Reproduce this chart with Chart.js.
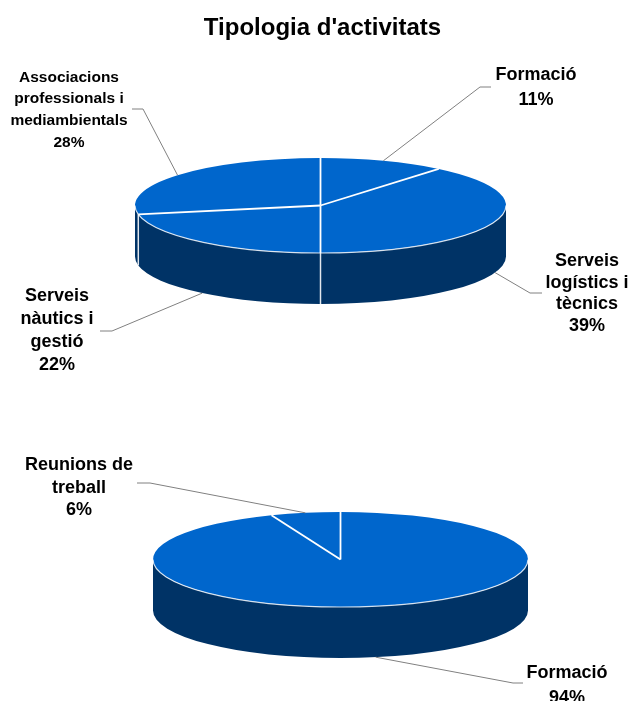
<!DOCTYPE html>
<html>
<head>
<meta charset="utf-8">
<script src="https://cdn.jsdelivr.net/npm/chart.js@4.4.1/dist/chart.umd.min.js"></script>
<style>
html,body{margin:0;padding:0;background:#fff;}
#wrap{position:relative;width:631px;height:701px;overflow:hidden;background:#fff;}
#wrap canvas{position:absolute;left:0;top:0;}
</style>
</head>
<body>
<div id="wrap">
<canvas id="c1" width="631" height="701"></canvas>
<canvas id="c2" width="631" height="701"></canvas>
</div>
<script>
// ---- data ----
const chartTitle = "Tipologia d'activitats";
const categories1 = [['Formació'], ['Serveis', 'logístics i', 'tècnics'], ['Serveis', 'nàutics i', 'gestió'], ['Associacions', 'professionals i', 'mediambientals']];
const values1 = [11, 39, 22, 28];
const categories2 = [['Formació'], ['Reunions de', 'treball']];
const values2 = [94, 6];

const FONT = '"Liberation Sans", Arial, Helvetica, sans-serif';
const TOP_COLOR = '#0066CC';
const SIDE_COLOR = '#003366';

// 3D pie plugin: draws the library's arc elements on a tilted ellipse with a side wall
const pie3d = {
  id: 'pie3d',
  beforeDatasetsDraw(chart, args, o) {
    const ctx = chart.ctx;
    const arcs = chart.getDatasetMeta(0).data;
    if (!arcs.length) return false;
    const R = arcs[0].outerRadius, ox = arcs[0].x, oy = arcs[0].y;
    const {cx, cy, rx, ry, depth} = o;
    const pt = (a, dy) => [cx + rx * Math.cos(a), cy + ry * Math.sin(a) + (dy || 0)];
    // side walls (front half only)
    arcs.forEach((arc) => {
      const s = arc.startAngle, e = arc.endAngle;
      for (let k = -1; k <= 1; k++) {
        const lo = Math.max(s, 2 * Math.PI * k), hi = Math.min(e, 2 * Math.PI * k + Math.PI);
        if (hi > lo) {
          ctx.beginPath();
          ctx.ellipse(cx, cy, rx, ry, 0, lo, hi);
          ctx.ellipse(cx, cy + depth, rx, ry, 0, hi, lo, true);
          ctx.closePath();
          ctx.fillStyle = o.sideColor;
          ctx.fill();
        }
      }
    });
    // side separators
    ctx.save();
    ctx.strokeStyle = 'rgba(255,255,255,0.85)';
    ctx.lineWidth = 1.5;
    arcs.forEach((arc) => {
      const a = arc.startAngle;
      if (Math.sin(a) > 0.001) {
        const p = pt(a), q = pt(a, depth);
        ctx.beginPath(); ctx.moveTo(p[0], p[1]); ctx.lineTo(q[0], q[1]); ctx.stroke();
      }
    });
    ctx.restore();
    // top faces through the library's arc elements
    arcs.forEach((arc) => {
      ctx.save();
      ctx.translate(cx, cy);
      ctx.scale(rx / R, ry / R);
      ctx.translate(-ox, -oy);
      arc.draw(ctx);
      ctx.restore();
    });
    // front rim highlight
    ctx.save();
    ctx.strokeStyle = 'rgba(255,255,255,0.8)';
    ctx.lineWidth = 1.2;
    ctx.beginPath(); ctx.ellipse(cx, cy, rx, ry, 0, 0, Math.PI); ctx.stroke();
    // top separators
    ctx.strokeStyle = '#ffffff';
    ctx.lineWidth = 1.8;
    arcs.forEach((arc) => {
      const p = pt(arc.startAngle);
      ctx.beginPath(); ctx.moveTo(cx, cy); ctx.lineTo(p[0], p[1]); ctx.stroke();
    });
    ctx.restore();
    return false;
  }
};

// callout labels with leader lines
const callouts = {
  id: 'callouts',
  afterDraw(chart, args, o) {
    const ctx = chart.ctx;
    const g = chart.options.plugins.pie3d;
    const arcs = chart.getDatasetMeta(0).data;
    const vals = chart.data.datasets[0].data;
    const total = vals.reduce((a, b) => a + b, 0);
    ctx.save();
    o.items.forEach((it, i) => {
      const arc = arcs[i];
      const mid = (arc.startAngle + arc.endAngle) / 2;
      let ax = g.cx + g.rx * Math.cos(mid), ay = g.cy + g.ry * Math.sin(mid);
      if (Math.sin(mid) > 0) ay += g.depth;
      ctx.strokeStyle = '#808080';
      ctx.lineWidth = 1;
      ctx.beginPath();
      ctx.moveTo(ax, ay);
      ctx.lineTo(it.elbow[0], it.elbow[1]);
      ctx.lineTo(it.end[0], it.end[1]);
      ctx.stroke();
      const lbl = chart.data.labels[i];
      const lines = (Array.isArray(lbl) ? lbl : [lbl]).concat([Math.round(vals[i] / total * 100) + '%']);
      ctx.fillStyle = '#000';
      ctx.font = 'bold ' + it.size + 'px ' + FONT;
      ctx.textAlign = 'center';
      ctx.textBaseline = 'alphabetic';
      lines.forEach((t, j) => ctx.fillText(t, it.x, it.y + j * it.lh));
    });
    ctx.restore();
  }
};

function makePie(id, labels, values, geom, items, title) {
  return new Chart(document.getElementById(id), {
    type: 'pie',
    data: {
      labels: labels,
      datasets: [{
        data: values,
        backgroundColor: TOP_COLOR,
        borderWidth: 0,
        hoverOffset: 0,
        offset: 0
      }]
    },
    options: {
      responsive: false,
      animation: false,
      events: [],
      layout: { padding: { left: 14, right: 0, top: 0, bottom: 0 } },
      plugins: {
        legend: { display: false },
        tooltip: { enabled: false },
        title: title ? {
          display: true,
          text: title,
          color: '#000',
          font: { family: FONT, size: 24, weight: 'bold', lineHeight: 1.2 },
          padding: { top: 14, bottom: 0 }
        } : { display: false },
        pie3d: Object.assign({ sideColor: SIDE_COLOR }, geom),
        callouts: { items: items }
      }
    },
    plugins: [pie3d, callouts]
  });
}

makePie('c1', categories1, values1,
  { cx: 320.5, cy: 205.5, rx: 185.5, ry: 47.5, depth: 51 },
  [
    { elbow: [480, 87], end: [491, 87], x: 536, y: 80, lh: 24.5, size: 18 },
    { elbow: [530, 293], end: [542, 293], x: 587, y: 266, lh: 21.5, size: 18 },
    { elbow: [112, 331], end: [100, 331], x: 57, y: 300.5, lh: 23, size: 18 },
    { elbow: [143, 109], end: [132, 109], x: 69, y: 81.7, lh: 21.7, size: 15.5 }
  ], chartTitle);

makePie('c2', categories2, values2,
  { cx: 340.5, cy: 559.5, rx: 187.5, ry: 47.5, depth: 51 },
  [
    { elbow: [513, 683], end: [523, 683], x: 567, y: 678, lh: 25, size: 18 },
    { elbow: [150, 483], end: [137, 483], x: 79, y: 470, lh: 22.5, size: 18 }
  ], null);
</script>
</body>
</html>
